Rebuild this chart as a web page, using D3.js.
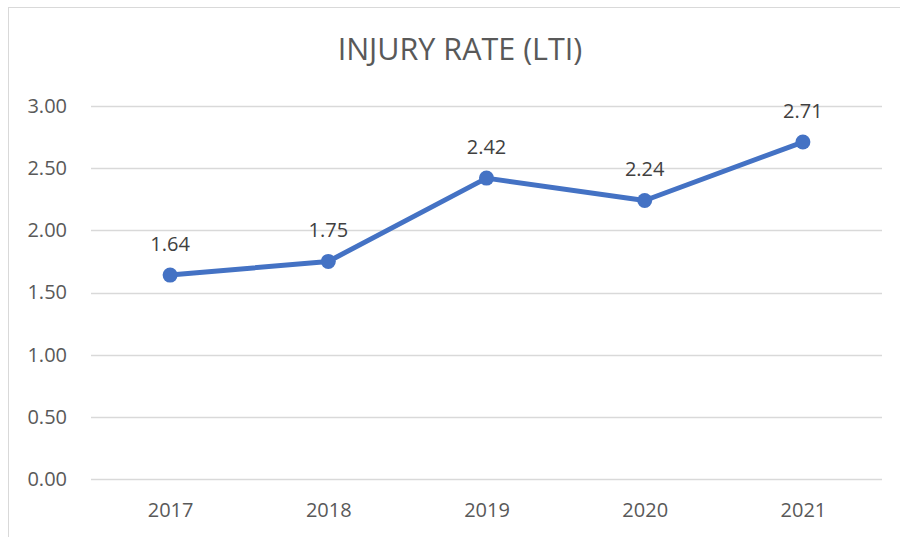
<!DOCTYPE html>
<html><head><meta charset="utf-8">
<script src="https://cdn.jsdelivr.net/npm/d3@7"></script>
<style>html,body{margin:0;padding:0;background:#fff;}svg{display:block;}</style>
</head><body>
<svg id="c" width="900" height="537"></svg>
<script>
(function(){
const categories = ["2017","2018","2019","2020","2021"];
const values = [1.64, 1.75, 2.42, 2.24, 2.71];
const yTicks = [0, 0.5, 1.0, 1.5, 2.0, 2.5, 3.0];
const title = "INJURY RATE (LTI)";

const svg = d3.select("#c");
const font = "'Open Sans', 'Noto Sans', sans-serif";
const W = 900, H = 537;
svg.append("rect").attr("x",8.5).attr("y",7.5).attr("width",W+10).attr("height",H+10)
  .attr("fill","#fff").attr("stroke","#d9d9d9").attr("stroke-width",1);

const pL = 91, pR = 882, pT = 106, pB = 479;
const x = d3.scalePoint().domain(categories).range([pL, pR]).padding(0.5);
const y = d3.scaleLinear().domain([0,3]).range([pB, pT]);

svg.append("text").attr("x",460).attr("y",60).attr("text-anchor","middle")
  .attr("font-family",font).attr("font-size",30.5).attr("fill","#595959").text(title);

const grid = svg.append("g");
grid.selectAll("line").data(yTicks).join("line")
  .attr("x1",pL).attr("x2",pR)
  .attr("y1",d=>Math.round(y(d))+0.5).attr("y2",d=>Math.round(y(d))+0.5)
  .attr("stroke","#d9d9d9").attr("stroke-width",1.3);

const yAxis = d3.axisLeft(y).tickValues(yTicks).tickFormat(d3.format(".2f")).tickSize(0).tickPadding(0);
const ya = svg.append("g").attr("transform",`translate(67,0)`).call(yAxis);
ya.select(".domain").remove();
ya.selectAll("text").attr("font-family",font).attr("font-size",20).attr("fill","#595959");

const xAxis = d3.axisBottom(x).tickSize(0).tickPadding(0);
const xa = svg.append("g").attr("transform",`translate(0,503)`).call(xAxis);
xa.select(".domain").remove();
xa.selectAll("text").attr("font-family",font).attr("font-size",20).attr("fill","#595959").attr("dy","0.71em");

const line = d3.line().x((d,i)=>x(categories[i])).y(d=>y(d));
svg.append("path").datum(values).attr("d",line).attr("fill","none")
  .attr("stroke","#4472C4").attr("stroke-width",5).attr("stroke-linejoin","round").attr("stroke-linecap","round");
svg.selectAll("circle.pt").data(values).join("circle").attr("class","pt")
  .attr("cx",(d,i)=>x(categories[i])).attr("cy",d=>y(d)).attr("r",7.5).attr("fill","#4472C4");

svg.selectAll("text.lbl").data(values).join("text").attr("class","lbl")
  .attr("x",(d,i)=>x(categories[i])).attr("y",d=>y(d)-24)
  .attr("text-anchor","middle").attr("font-family",font).attr("font-size",20).attr("fill","#404040")
  .text(d=>d.toFixed(2));
})();
</script>
</body></html>
